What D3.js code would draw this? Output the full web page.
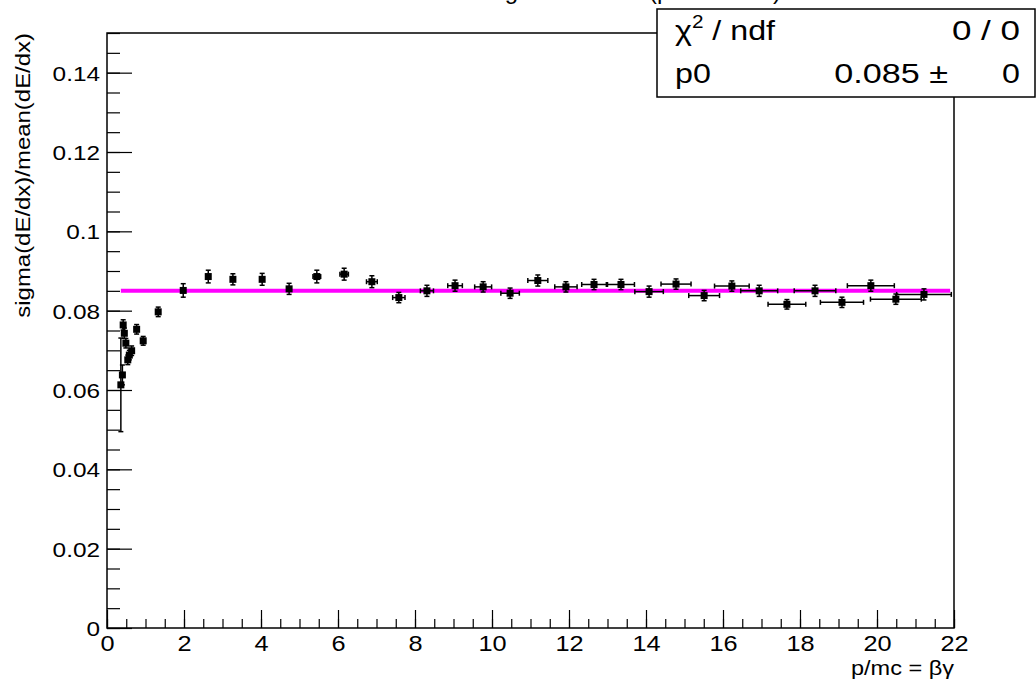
<!DOCTYPE html>
<html>
<head>
<meta charset="utf-8">
<script src="https://cdn.jsdelivr.net/npm/d3@7"></script>
<style>
  body { margin: 0; background: #fff; }
  svg text { font-family: "Liberation Sans", Arial, sans-serif; fill: #000; }
</style>
</head>
<body>
<script>
// data
var xVals = [0.36, 0.40, 0.42, 0.45, 0.49, 0.54, 0.58, 0.64, 0.77, 0.94, 1.33, 1.98, 2.63, 3.27, 4.03,
  4.73, 5.45, 6.16, 6.88, 7.58, 8.31, 9.04, 9.77, 10.47, 11.19, 11.92, 12.65, 13.35, 14.08, 14.78,
  15.51, 16.23, 16.94, 17.66, 18.39, 19.09, 19.84, 20.49, 21.22];
var yVals = [0.0613, 0.0638, 0.0764, 0.0743, 0.0718, 0.0676, 0.0688, 0.0699, 0.0753, 0.0724, 0.0797, 0.0851, 0.0886, 0.0879, 0.0879,
  0.0855, 0.0886, 0.0892, 0.0873, 0.0833, 0.0850, 0.0863, 0.0860, 0.0844, 0.0876, 0.0860, 0.0866, 0.0866, 0.0848, 0.0867,
  0.0838, 0.0862, 0.0850, 0.0816, 0.0850, 0.0821, 0.0863, 0.0829, 0.0841];
var xErr = [0.01, 0.01, 0.01, 0.01, 0.01, 0.02, 0.02, 0.02, 0.03, 0.03, 0.04, 0.05, 0.06, 0.07, 0.08,
  0.09, 0.10, 0.11, 0.14, 0.16, 0.17, 0.19, 0.22, 0.24, 0.26, 0.29, 0.32, 0.35, 0.37, 0.39,
  0.40, 0.45, 0.48, 0.49, 0.54, 0.56, 0.61, 0.66, 0.71];
var yErr = [0.0118, 0.0025, 0.0013, 0.0013, 0.0012, 0.0012, 0.0012, 0.0012, 0.0012, 0.0011, 0.0012, 0.0017, 0.0016, 0.0014, 0.0015,
  0.0014, 0.0016, 0.0015, 0.0015, 0.0013, 0.0014, 0.0014, 0.0013, 0.0013, 0.0014, 0.0013, 0.0013, 0.0013, 0.0014, 0.0013,
  0.0013, 0.0013, 0.0014, 0.0012, 0.0014, 0.0013, 0.0014, 0.0013, 0.0014];

var fitP0 = 0.085;
var fitRange = [0.36, 21.9];

var xMajor = [0, 2, 4, 6, 8, 10, 12, 14, 16, 18, 20, 22];
var yMajor = [0, 0.02, 0.04, 0.06, 0.08, 0.1, 0.12, 0.14];

var titleText = "Truncated dE/dx average resolution (pion tracks)";
var xTitle = "p/mc = βγ";
var yTitle = "sigma(dE/dx)/mean(dE/dx)";
var statRows = [["χ", "ndf", "0 / 0"], ["p0", "0.085 ±", "0"]];

var svgWidth = 1036, svgHeight = 684;
var frame = { left: 107, right: 954, top: 33, bottom: 628 };

var svg = d3.select("body").append("svg")
  .attr("width", svgWidth)
  .attr("height", svgHeight);

// the reference font is a bit wider than Liberation Sans, so widen texts
function stretch(sel, k) {
  sel.each(function () {
    var len = this.getComputedTextLength();
    if (len > 0) {
      d3.select(this).attr("textLength", len * k).attr("lengthAdjust", "spacingAndGlyphs");
    }
  });
}

var xScale = d3.scaleLinear().domain([0, 22]).range([frame.left, frame.right]);
var yScale = d3.scaleLinear().domain([0, 0.15]).range([frame.bottom, frame.top]);

// minor ticks
var xMinor = d3.range(0, 22.001, 0.5);
var yMinor = d3.range(0, 0.15001, 0.005);

// frame
svg.append("rect")
  .attr("x", frame.left).attr("y", frame.top)
  .attr("width", frame.right - frame.left).attr("height", frame.bottom - frame.top)
  .attr("fill", "none").attr("stroke", "#000").attr("stroke-width", 1.5);

// x axis, ticks drawn inward
var xMinorAxis = d3.axisBottom(xScale).tickValues(xMinor).tickSize(-9).tickFormat("");
var xMajorAxis = d3.axisBottom(xScale).tickValues(xMajor).tickSize(-18)
  .tickFormat(d3.format("~g"));
svg.append("g").attr("transform", `translate(0, ${frame.bottom})`).call(xMinorAxis);
var gx = svg.append("g").attr("transform", `translate(0, ${frame.bottom})`).call(xMajorAxis);

// y axis
var yMinorAxis = d3.axisLeft(yScale).tickValues(yMinor).tickSize(-13).tickFormat("");
var yMajorAxis = d3.axisLeft(yScale).tickValues(yMajor).tickSize(-25)
  .tickFormat(d3.format("~g"));
svg.append("g").attr("transform", `translate(${frame.left}, 0)`).call(yMinorAxis);
var gy = svg.append("g").attr("transform", `translate(${frame.left}, 0)`).call(yMajorAxis);

svg.selectAll(".domain").remove();
svg.selectAll(".tick line").attr("stroke", "#000").attr("stroke-width", 1.2);

// tick labels sit outside the frame
gx.selectAll(".tick text")
  .attr("y", 23).attr("dy", "0").attr("font-size", 22)
  .call(stretch, 1.15);
gy.selectAll(".tick text")
  .attr("x", -7).attr("dy", "0.36em").attr("font-size", 21)
  .call(stretch, 1.16);

// axis titles
svg.append("text")
  .attr("x", frame.right).attr("y", 675)
  .attr("text-anchor", "end").attr("font-size", 21)
  .text(xTitle)
  .call(stretch, 1.12);

svg.append("text")
  .attr("transform", `translate(30, ${frame.top}) rotate(-90)`)
  .attr("text-anchor", "end").attr("font-size", 21)
  .text(yTitle)
  .call(stretch, 1.14);

// fit line
svg.append("line")
  .attr("x1", xScale(fitRange[0])).attr("x2", xScale(fitRange[1]))
  .attr("y1", yScale(fitP0)).attr("y2", yScale(fitP0))
  .attr("stroke", "#ff00ff").attr("stroke-width", 4);

// points with error bars
var pts = xVals.map(function (x, i) {
  return { x: x, y: yVals[i], ex: xErr[i], ey: yErr[i] };
});

var bars = svg.append("g").attr("stroke", "#000").attr("stroke-width", 1.5);
var cap = 2.5;
pts.forEach(function (d) {
  var cx = xScale(d.x), cy = yScale(d.y);
  var x0 = xScale(d.x - d.ex), x1 = xScale(d.x + d.ex);
  var y0 = yScale(d.y - d.ey), y1 = yScale(d.y + d.ey);
  if (x1 - x0 > 7) {
    bars.append("line").attr("x1", x0).attr("x2", x1).attr("y1", cy).attr("y2", cy);
    bars.append("line").attr("x1", x0).attr("x2", x0).attr("y1", cy - cap).attr("y2", cy + cap);
    bars.append("line").attr("x1", x1).attr("x2", x1).attr("y1", cy - cap).attr("y2", cy + cap);
  }
  bars.append("line").attr("x1", cx).attr("x2", cx).attr("y1", y0).attr("y2", y1);
  bars.append("line").attr("x1", cx - cap).attr("x2", cx + cap).attr("y1", y0).attr("y2", y0);
  bars.append("line").attr("x1", cx - cap).attr("x2", cx + cap).attr("y1", y1).attr("y2", y1);
});

var m = 7;
svg.append("g").selectAll("rect")
  .data(pts)
  .enter()
  .append("rect")
  .attr("x", d => xScale(d.x) - m / 2)
  .attr("y", d => yScale(d.y) - m / 2)
  .attr("width", m).attr("height", m)
  .attr("fill", "#000");

// title, mostly above the canvas like in the reference
svg.append("text")
  .attr("x", 781).attr("y", -1)
  .attr("text-anchor", "end").attr("font-size", 24)
  .text(titleText);

// stats box
var box = { x: 657, y: 9, w: 378, h: 88 };
svg.append("rect")
  .attr("x", box.x).attr("y", box.y).attr("width", box.w).attr("height", box.h)
  .attr("fill", "#fff").attr("stroke", "#000").attr("stroke-width", 1.5);

var r1 = svg.append("text").attr("x", 675).attr("y", 40).attr("font-size", 28);
r1.append("tspan").text(statRows[0][0]);
r1.append("tspan").attr("font-size", 18).attr("dy", -12).text("2");
r1.append("tspan").attr("dy", 12).text(" / " + statRows[0][1]);
r1.call(stretch, 1.15);

svg.append("text").attr("x", 1020).attr("y", 40).attr("text-anchor", "end")
  .attr("font-size", 28).text(statRows[0][2]).call(stretch, 1.25);

svg.append("text").attr("x", 675).attr("y", 83).attr("font-size", 28)
  .text(statRows[1][0]).call(stretch, 1.15);
svg.append("text").attr("x", 948).attr("y", 83).attr("text-anchor", "end")
  .attr("font-size", 28).text(statRows[1][1]).call(stretch, 1.22);
svg.append("text").attr("x", 1020).attr("y", 83).attr("text-anchor", "end")
  .attr("font-size", 28).text(statRows[1][2]).call(stretch, 1.15);
</script>
</body>
</html>
